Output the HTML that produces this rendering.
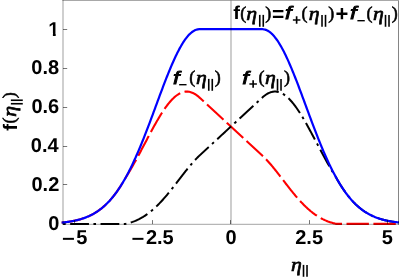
<!DOCTYPE html>
<html><head><meta charset="utf-8"><title>plot</title><style>html,body{margin:0;padding:0;background:#fff}body{width:399px;height:278px;overflow:hidden}svg{will-change:transform}</style></head><body><svg width="399" height="278" viewBox="0 0 399 278" style="display:block" text-rendering="geometricPrecision">
<rect width="399" height="278" fill="#fff"/>
<path d="M61.65,222.59 L62.33,222.53 L63.00,222.46 L63.68,222.39 L64.35,222.31 L65.03,222.23 L65.71,222.15 L66.38,222.07 L67.06,221.98 L67.73,221.89 L68.41,221.79 L69.09,221.69 L69.76,221.58 L70.44,221.48 L71.11,221.36 L71.79,221.24 L72.47,221.12 L73.14,220.99 L73.82,220.86 L74.49,220.72 L75.17,220.58 L75.85,220.43 L76.52,220.27 L77.20,220.11 L77.88,219.94 L78.55,219.76 L79.23,219.58 L79.90,219.40 L80.58,219.20 L81.26,219.00 L81.93,218.79 L82.61,218.57 L83.28,218.34 L83.96,218.11 L84.64,217.87 L85.31,217.62 L85.99,217.36 L86.66,217.09 L87.34,216.81 L88.02,216.52 L88.69,216.22 L89.37,215.92 L90.04,215.60 L90.72,215.27 L91.40,214.93 L92.07,214.58 L92.75,214.22 L93.42,213.84 L94.10,213.46 L94.78,213.06 L95.45,212.65 L96.13,212.22 L96.80,211.79 L97.48,211.34 L98.16,210.88 L98.83,210.40 L99.51,209.91 L100.18,209.40 L100.86,208.88 L101.54,208.35 L102.21,207.80 L102.89,207.23 L103.57,206.65 L104.24,206.06 L104.92,205.44 L105.59,204.81 L106.27,204.17 L106.95,203.50 L107.62,202.82 L108.30,202.12 L108.97,201.41 L109.65,200.68 L110.33,199.92 L111.00,199.15 L111.68,198.36 L112.35,197.56 L113.03,196.73 L113.71,195.88 L114.38,195.02 L115.06,194.13 L115.73,193.23 L116.41,192.30 L117.09,191.36 L117.76,190.40 L118.44,189.41 L119.11,188.40 L119.79,187.38 L120.47,186.33 L121.14,185.27 L121.82,184.18 L122.49,183.07 L123.17,181.94 L123.85,180.79 L124.52,179.62 L125.20,178.42 L125.87,177.29 L126.55,176.21 L127.23,175.12 L127.90,174.01 L128.58,172.90 L129.26,171.77 L129.93,170.63 L130.61,169.48 L131.28,168.32 L131.96,167.15 L132.64,165.97 L133.31,164.78 L133.99,163.57 L134.66,162.36 L135.34,161.15 L136.02,159.92 L136.69,158.69 L137.37,157.45 L138.04,156.20 L138.72,154.95 L139.40,153.69 L140.07,152.42 L140.75,151.15 L141.42,149.88 L142.10,148.61 L142.78,147.33 L143.45,146.05 L144.13,144.77 L144.80,143.49 L145.48,142.20 L146.16,140.92 L146.83,139.64 L147.51,138.36 L148.18,137.09 L148.86,135.82 L149.54,134.55 L150.21,133.28 L150.89,132.03 L151.56,130.77 L152.24,129.53 L152.92,128.29 L153.59,127.06 L154.27,125.84 L154.95,124.63 L155.62,123.43 L156.30,122.24 L156.97,121.07 L157.65,119.91 L158.33,118.76 L159.00,117.62 L159.68,116.50 L160.35,115.40 L161.03,114.31 L161.71,113.24 L162.38,112.19 L163.06,111.16 L163.73,110.14 L164.41,109.15 L165.09,108.18 L165.76,107.23 L166.44,106.30 L167.11,105.39 L167.79,104.51 L168.47,103.65 L169.14,102.82 L169.82,102.01 L170.49,101.23 L171.17,100.48 L171.85,99.75 L172.52,99.05 L173.20,98.38 L173.87,97.74 L174.55,97.13 L175.23,96.55 L175.90,96.00 L176.58,95.47 L177.25,94.99 L177.93,94.53 L178.61,94.10 L179.28,93.71 L179.96,93.35 L180.64,93.02 L181.31,92.72 L181.99,92.46 L182.66,92.23 L183.34,92.04 L184.02,91.88 L184.69,91.75 L185.37,91.66 L186.04,91.60 L186.72,91.58 L187.40,91.59 L188.07,91.64 L188.75,91.72 L189.42,91.84 L190.10,91.99 L190.78,92.17 L191.45,92.39 L192.13,92.64 L192.80,92.93 L193.48,93.25 L194.16,93.60 L194.83,93.99 L195.51,94.41 L196.18,94.86 L196.86,95.34 L197.54,95.86 L198.21,96.41 L198.89,96.99 L199.56,97.60 L200.24,98.22 L200.92,98.85 L201.59,99.47 L202.27,100.10 L202.94,100.72 L203.62,101.35 L204.30,101.97 L204.97,102.60 L205.65,103.22 L206.33,103.85 L207.00,104.47 L207.68,105.09 L208.35,105.72 L209.03,106.34 L209.71,106.97 L210.38,107.59 L211.06,108.22 L211.73,108.84 L212.41,109.47 L213.09,110.09 L213.76,110.72 L214.44,111.34 L215.11,111.97 L215.79,112.59 L216.47,113.21 L217.14,113.84 L217.82,114.46 L218.49,115.09 L219.17,115.71 L219.85,116.34 L220.52,116.96 L221.20,117.59 L221.87,118.21 L222.55,118.84 L223.23,119.46 L223.90,120.09 L224.58,120.71 L225.25,121.33 L225.93,121.96 L226.61,122.58 L227.28,123.21 L227.96,123.83 L228.63,124.46 L229.31,125.08 L229.99,125.71 L230.66,126.33 L231.34,126.96 L232.02,127.58 L232.69,128.20 L233.37,128.83 L234.04,129.45 L234.72,130.08 L235.40,130.70 L236.07,131.33 L236.75,131.95 L237.42,132.58 L238.10,133.20 L238.78,133.83 L239.45,134.45 L240.13,135.08 L240.80,135.70 L241.48,136.32 L242.16,136.95 L242.83,137.57 L243.51,138.20 L244.18,138.82 L244.86,139.45 L245.54,140.07 L246.21,140.70 L246.89,141.32 L247.56,141.95 L248.24,142.57 L248.92,143.20 L249.59,143.82 L250.27,144.44 L250.94,145.07 L251.62,145.69 L252.30,146.32 L252.97,146.94 L253.65,147.57 L254.32,148.19 L255.00,148.82 L255.68,149.44 L256.35,150.07 L257.03,150.69 L257.71,151.31 L258.38,151.94 L259.06,152.56 L259.73,153.19 L260.41,153.81 L261.09,154.44 L261.76,155.06 L262.44,155.69 L263.11,156.32 L263.79,156.98 L264.47,157.65 L265.14,158.33 L265.82,159.03 L266.49,159.74 L267.17,160.46 L267.85,161.20 L268.52,161.95 L269.20,162.71 L269.87,163.49 L270.55,164.27 L271.23,165.06 L271.90,165.87 L272.58,166.68 L273.25,167.50 L273.93,168.33 L274.61,169.17 L275.28,170.01 L275.96,170.86 L276.63,171.72 L277.31,172.58 L277.99,173.45 L278.66,174.32 L279.34,175.19 L280.01,176.06 L280.69,176.94 L281.37,177.82 L282.04,178.70 L282.72,179.59 L283.40,180.47 L284.07,181.35 L284.75,182.23 L285.42,183.11 L286.10,183.99 L286.78,184.86 L287.45,185.73 L288.13,186.60 L288.80,187.47 L289.48,188.33 L290.16,189.18 L290.83,190.04 L291.51,190.88 L292.18,191.72 L292.86,192.55 L293.54,193.38 L294.21,194.20 L294.89,195.01 L295.56,195.81 L296.24,196.61 L296.92,197.39 L297.59,198.17 L298.27,198.94 L298.94,199.70 L299.62,200.45 L300.30,201.19 L300.97,201.92 L301.65,202.64 L302.32,203.34 L303.00,204.04 L303.68,204.73 L304.35,205.40 L305.03,206.06 L305.70,206.72 L306.38,207.36 L307.06,207.98 L307.73,208.60 L308.41,209.20 L309.09,209.80 L309.76,210.37 L310.44,210.94 L311.11,211.50 L311.79,212.04 L312.47,212.57 L313.14,213.09 L313.82,213.59 L314.49,214.09 L315.17,214.57 L315.85,215.04 L316.52,215.49 L317.20,215.94 L317.87,216.37 L318.55,216.79 L319.23,217.20 L319.90,217.59 L320.58,217.98 L321.25,218.35 L321.93,218.71 L322.61,219.06 L323.28,219.40 L323.96,219.72 L324.63,220.04 L325.31,220.34 L325.99,220.64 L326.66,220.92 L327.34,221.19 L328.01,221.46 L328.69,221.71 L329.37,221.95 L330.04,222.18 L330.72,222.41 L331.39,222.62 L332.07,222.82 L332.75,223.02 L333.42,223.21 L334.10,223.38 L334.78,223.55 L335.45,223.72 L336.13,223.87 L336.80,223.90 L337.48,223.90 L338.16,223.90 L338.83,223.90 L339.51,223.90 L340.18,223.90 L340.86,223.90 L341.54,223.90 L342.21,223.90 L342.89,223.90 L343.56,223.90 L344.24,223.90 L344.92,223.90 L345.59,223.90 L346.27,223.90 L346.94,223.90 L347.62,223.90 L348.30,223.90 L348.97,223.90 L349.65,223.90 L350.32,223.90 L351.00,223.90 L351.68,223.90 L352.35,223.90 L353.03,223.90 L353.70,223.90 L354.38,223.90 L355.06,223.90 L355.73,223.90 L356.41,223.90 L357.08,223.90 L357.76,223.90 L358.44,223.90 L359.11,223.90 L359.79,223.90 L360.47,223.90 L361.14,223.90 L361.82,223.90 L362.49,223.90 L363.17,223.90 L363.85,223.90 L364.52,223.90 L365.20,223.90 L365.87,223.90 L366.55,223.90 L367.23,223.90 L367.90,223.90 L368.58,223.90 L369.25,223.90 L369.93,223.90 L370.61,223.90 L371.28,223.90 L371.96,223.90 L372.63,223.90 L373.31,223.90 L373.99,223.90 L374.66,223.90 L375.34,223.90 L376.01,223.90 L376.69,223.90 L377.37,223.90 L378.04,223.90 L378.72,223.90 L379.39,223.90 L380.07,223.90 L380.75,223.90 L381.42,223.90 L382.10,223.90 L382.77,223.90 L383.45,223.90 L384.13,223.90 L384.80,223.90 L385.48,223.90 L386.16,223.90 L386.83,223.90 L387.51,223.90 L388.18,223.90 L388.86,223.90 L389.54,223.90 L390.21,223.90 L390.89,223.90 L391.56,223.90 L392.24,223.90 L392.92,223.90 L393.59,223.90 L394.27,223.90 L394.94,223.90 L395.62,223.90 L396.30,223.90 L396.97,223.90 L397.65,223.90 L398.32,223.90 L399.00,223.90" fill="none" stroke="#f00" stroke-width="2.1" stroke-dasharray="22.4,4.49" stroke-dashoffset="0"/>
<path d="M61.65,223.90 L62.33,223.90 L63.00,223.90 L63.68,223.90 L64.35,223.90 L65.03,223.90 L65.71,223.90 L66.38,223.90 L67.06,223.90 L67.73,223.90 L68.41,223.90 L69.09,223.90 L69.76,223.90 L70.44,223.90 L71.11,223.90 L71.79,223.90 L72.47,223.90 L73.14,223.90 L73.82,223.90 L74.49,223.90 L75.17,223.90 L75.85,223.90 L76.52,223.90 L77.20,223.90 L77.88,223.90 L78.55,223.90 L79.23,223.90 L79.90,223.90 L80.58,223.90 L81.26,223.90 L81.93,223.90 L82.61,223.90 L83.28,223.90 L83.96,223.90 L84.64,223.90 L85.31,223.90 L85.99,223.90 L86.66,223.90 L87.34,223.90 L88.02,223.90 L88.69,223.90 L89.37,223.90 L90.04,223.90 L90.72,223.90 L91.40,223.90 L92.07,223.90 L92.75,223.90 L93.42,223.90 L94.10,223.90 L94.78,223.90 L95.45,223.90 L96.13,223.90 L96.80,223.90 L97.48,223.90 L98.16,223.90 L98.83,223.90 L99.51,223.90 L100.18,223.90 L100.86,223.90 L101.54,223.90 L102.21,223.90 L102.89,223.90 L103.57,223.90 L104.24,223.90 L104.92,223.90 L105.59,223.90 L106.27,223.90 L106.95,223.90 L107.62,223.90 L108.30,223.90 L108.97,223.90 L109.65,223.90 L110.33,223.90 L111.00,223.90 L111.68,223.90 L112.35,223.90 L113.03,223.90 L113.71,223.90 L114.38,223.90 L115.06,223.90 L115.73,223.90 L116.41,223.90 L117.09,223.90 L117.76,223.90 L118.44,223.90 L119.11,223.90 L119.79,223.90 L120.47,223.90 L121.14,223.90 L121.82,223.90 L122.49,223.90 L123.17,223.90 L123.85,223.90 L124.52,223.90 L125.20,223.90 L125.87,223.82 L126.55,223.67 L127.23,223.50 L127.90,223.33 L128.58,223.15 L129.26,222.96 L129.93,222.76 L130.61,222.56 L131.28,222.34 L131.96,222.11 L132.64,221.88 L133.31,221.63 L133.99,221.38 L134.66,221.11 L135.34,220.84 L136.02,220.55 L136.69,220.25 L137.37,219.95 L138.04,219.63 L138.72,219.30 L139.40,218.95 L140.07,218.60 L140.75,218.24 L141.42,217.86 L142.10,217.47 L142.78,217.08 L143.45,216.66 L144.13,216.24 L144.80,215.81 L145.48,215.36 L146.16,214.90 L146.83,214.43 L147.51,213.94 L148.18,213.44 L148.86,212.93 L149.54,212.41 L150.21,211.88 L150.89,211.33 L151.56,210.77 L152.24,210.20 L152.92,209.62 L153.59,209.02 L154.27,208.42 L154.95,207.80 L155.62,207.17 L156.30,206.52 L156.97,205.87 L157.65,205.20 L158.33,204.52 L159.00,203.83 L159.68,203.13 L160.35,202.42 L161.03,201.70 L161.71,200.97 L162.38,200.23 L163.06,199.47 L163.73,198.71 L164.41,197.94 L165.09,197.16 L165.76,196.37 L166.44,195.57 L167.11,194.77 L167.79,193.95 L168.47,193.13 L169.14,192.30 L169.82,191.47 L170.49,190.63 L171.17,189.78 L171.85,188.93 L172.52,188.07 L173.20,187.21 L173.87,186.34 L174.55,185.47 L175.23,184.60 L175.90,183.72 L176.58,182.85 L177.25,181.97 L177.93,181.09 L178.61,180.20 L179.28,179.32 L179.96,178.44 L180.64,177.56 L181.31,176.68 L181.99,175.80 L182.66,174.93 L183.34,174.05 L184.02,173.19 L184.69,172.32 L185.37,171.46 L186.04,170.61 L186.72,169.76 L187.40,168.92 L188.07,168.08 L188.75,167.26 L189.42,166.44 L190.10,165.63 L190.78,164.83 L191.45,164.04 L192.13,163.25 L192.80,162.48 L193.48,161.73 L194.16,160.98 L194.83,160.24 L195.51,159.52 L196.18,158.82 L196.86,158.12 L197.54,157.44 L198.21,156.78 L198.89,156.13 L199.56,155.50 L200.24,154.88 L200.92,154.25 L201.59,153.63 L202.27,153.00 L202.94,152.38 L203.62,151.75 L204.30,151.13 L204.97,150.50 L205.65,149.88 L206.33,149.25 L207.00,148.63 L207.68,148.01 L208.35,147.38 L209.03,146.76 L209.71,146.13 L210.38,145.51 L211.06,144.88 L211.73,144.26 L212.41,143.63 L213.09,143.01 L213.76,142.38 L214.44,141.76 L215.11,141.13 L215.79,140.51 L216.47,139.89 L217.14,139.26 L217.82,138.64 L218.49,138.01 L219.17,137.39 L219.85,136.76 L220.52,136.14 L221.20,135.51 L221.87,134.89 L222.55,134.26 L223.23,133.64 L223.90,133.01 L224.58,132.39 L225.25,131.77 L225.93,131.14 L226.61,130.52 L227.28,129.89 L227.96,129.27 L228.63,128.64 L229.31,128.02 L229.99,127.39 L230.66,126.77 L231.34,126.14 L232.02,125.52 L232.69,124.90 L233.37,124.27 L234.04,123.65 L234.72,123.02 L235.40,122.40 L236.07,121.77 L236.75,121.15 L237.42,120.52 L238.10,119.90 L238.78,119.27 L239.45,118.65 L240.13,118.02 L240.80,117.40 L241.48,116.78 L242.16,116.15 L242.83,115.53 L243.51,114.90 L244.18,114.28 L244.86,113.65 L245.54,113.03 L246.21,112.40 L246.89,111.78 L247.56,111.15 L248.24,110.53 L248.92,109.90 L249.59,109.28 L250.27,108.66 L250.94,108.03 L251.62,107.41 L252.30,106.78 L252.97,106.16 L253.65,105.53 L254.32,104.91 L255.00,104.28 L255.68,103.66 L256.35,103.03 L257.03,102.41 L257.71,101.79 L258.38,101.16 L259.06,100.54 L259.73,99.91 L260.41,99.29 L261.09,98.66 L261.76,98.04 L262.44,97.41 L263.11,96.81 L263.79,96.24 L264.47,95.70 L265.14,95.20 L265.82,94.72 L266.49,94.28 L267.17,93.87 L267.85,93.49 L268.52,93.15 L269.20,92.84 L269.87,92.56 L270.55,92.32 L271.23,92.11 L271.90,91.94 L272.58,91.80 L273.25,91.69 L273.93,91.62 L274.61,91.59 L275.28,91.58 L275.96,91.62 L276.63,91.68 L277.31,91.79 L277.99,91.92 L278.66,92.09 L279.34,92.30 L280.01,92.53 L280.69,92.81 L281.37,93.11 L282.04,93.45 L282.72,93.82 L283.40,94.22 L284.07,94.66 L284.75,95.13 L285.42,95.63 L286.10,96.16 L286.78,96.72 L287.45,97.31 L288.13,97.93 L288.80,98.58 L289.48,99.26 L290.16,99.97 L290.83,100.70 L291.51,101.46 L292.18,102.25 L292.86,103.07 L293.54,103.91 L294.21,104.77 L294.89,105.66 L295.56,106.57 L296.24,107.51 L296.92,108.46 L297.59,109.44 L298.27,110.44 L298.94,111.46 L299.62,112.50 L300.30,113.56 L300.97,114.63 L301.65,115.73 L302.32,116.83 L303.00,117.96 L303.68,119.10 L304.35,120.25 L305.03,121.42 L305.70,122.60 L306.38,123.79 L307.06,124.99 L307.73,126.21 L308.41,127.43 L309.09,128.66 L309.76,129.90 L310.44,131.15 L311.11,132.40 L311.79,133.66 L312.47,134.93 L313.14,136.20 L313.82,137.47 L314.49,138.75 L315.17,140.03 L315.85,141.31 L316.52,142.59 L317.20,143.87 L317.87,145.15 L318.55,146.43 L319.23,147.71 L319.90,148.99 L320.58,150.26 L321.25,151.53 L321.93,152.80 L322.61,154.06 L323.28,155.32 L323.96,156.57 L324.63,157.82 L325.31,159.06 L325.99,160.29 L326.66,161.51 L327.34,162.73 L328.01,163.93 L328.69,165.13 L329.37,166.32 L330.04,167.50 L330.72,168.67 L331.39,169.83 L332.07,170.97 L332.75,172.11 L333.42,173.23 L334.10,174.35 L334.78,175.45 L335.45,176.53 L336.13,177.61 L336.80,178.78 L337.48,179.97 L338.16,181.13 L338.83,182.28 L339.51,183.40 L340.18,184.50 L340.86,185.59 L341.54,186.65 L342.21,187.69 L342.89,188.71 L343.56,189.71 L344.24,190.69 L344.92,191.64 L345.59,192.58 L346.27,193.50 L346.94,194.40 L347.62,195.28 L348.30,196.14 L348.97,196.98 L349.65,197.80 L350.32,198.60 L351.00,199.39 L351.68,200.15 L352.35,200.90 L353.03,201.62 L353.70,202.34 L354.38,203.03 L355.06,203.70 L355.73,204.36 L356.41,205.00 L357.08,205.63 L357.76,206.24 L358.44,206.83 L359.11,207.40 L359.79,207.97 L360.47,208.51 L361.14,209.04 L361.82,209.56 L362.49,210.06 L363.17,210.54 L363.85,211.02 L364.52,211.48 L365.20,211.92 L365.87,212.35 L366.55,212.77 L367.23,213.18 L367.90,213.57 L368.58,213.96 L369.25,214.33 L369.93,214.68 L370.61,215.03 L371.28,215.37 L371.96,215.69 L372.63,216.01 L373.31,216.31 L373.99,216.61 L374.66,216.89 L375.34,217.17 L376.01,217.43 L376.69,217.69 L377.37,217.94 L378.04,218.18 L378.72,218.41 L379.39,218.64 L380.07,218.85 L380.75,219.06 L381.42,219.26 L382.10,219.45 L382.77,219.64 L383.45,219.82 L384.13,219.99 L384.80,220.16 L385.48,220.32 L386.16,220.47 L386.83,220.62 L387.51,220.76 L388.18,220.90 L388.86,221.03 L389.54,221.16 L390.21,221.28 L390.89,221.40 L391.56,221.51 L392.24,221.62 L392.92,221.72 L393.59,221.82 L394.27,221.91 L394.94,222.01 L395.62,222.09 L396.30,222.18 L396.97,222.26 L397.65,222.33 L398.32,222.41 L399.00,222.48" fill="none" stroke="#000" stroke-width="2.0" stroke-dasharray="18.77,4.5,2.6,4.5" stroke-dashoffset="21.85"/>
<path d="M61.65,222.59 L62.33,222.53 L63.00,222.46 L63.68,222.39 L64.35,222.31 L65.03,222.23 L65.71,222.15 L66.38,222.07 L67.06,221.98 L67.73,221.89 L68.41,221.79 L69.09,221.69 L69.76,221.58 L70.44,221.48 L71.11,221.36 L71.79,221.24 L72.47,221.12 L73.14,220.99 L73.82,220.86 L74.49,220.72 L75.17,220.58 L75.85,220.43 L76.52,220.27 L77.20,220.11 L77.88,219.94 L78.55,219.76 L79.23,219.58 L79.90,219.40 L80.58,219.20 L81.26,219.00 L81.93,218.79 L82.61,218.57 L83.28,218.34 L83.96,218.11 L84.64,217.87 L85.31,217.62 L85.99,217.36 L86.66,217.09 L87.34,216.81 L88.02,216.52 L88.69,216.22 L89.37,215.92 L90.04,215.60 L90.72,215.27 L91.40,214.93 L92.07,214.58 L92.75,214.22 L93.42,213.84 L94.10,213.46 L94.78,213.06 L95.45,212.65 L96.13,212.22 L96.80,211.79 L97.48,211.34 L98.16,210.88 L98.83,210.40 L99.51,209.91 L100.18,209.40 L100.86,208.88 L101.54,208.35 L102.21,207.80 L102.89,207.23 L103.57,206.65 L104.24,206.06 L104.92,205.44 L105.59,204.81 L106.27,204.17 L106.95,203.50 L107.62,202.82 L108.30,202.12 L108.97,201.41 L109.65,200.68 L110.33,199.92 L111.00,199.15 L111.68,198.36 L112.35,197.56 L113.03,196.73 L113.71,195.88 L114.38,195.02 L115.06,194.13 L115.73,193.23 L116.41,192.30 L117.09,191.36 L117.76,190.40 L118.44,189.41 L119.11,188.40 L119.79,187.38 L120.47,186.33 L121.14,185.27 L121.82,184.18 L122.49,183.07 L123.17,181.94 L123.85,180.79 L124.52,179.62 L125.20,178.42 L125.87,177.21 L126.55,175.98 L127.23,174.72 L127.90,173.45 L128.58,172.15 L129.26,170.83 L129.93,169.50 L130.61,168.14 L131.28,166.76 L131.96,165.36 L132.64,163.95 L133.31,162.51 L133.99,161.05 L134.66,159.58 L135.34,158.08 L136.02,156.57 L136.69,155.04 L137.37,153.49 L138.04,151.92 L138.72,150.34 L139.40,148.74 L140.07,147.13 L140.75,145.49 L141.42,143.84 L142.10,142.18 L142.78,140.51 L143.45,138.81 L144.13,137.11 L144.80,135.39 L145.48,133.66 L146.16,131.92 L146.83,130.17 L147.51,128.41 L148.18,126.63 L148.86,124.85 L149.54,123.06 L150.21,121.26 L150.89,119.46 L151.56,117.65 L152.24,115.83 L152.92,114.01 L153.59,112.19 L154.27,110.36 L154.95,108.53 L155.62,106.70 L156.30,104.87 L156.97,103.04 L157.65,101.21 L158.33,99.38 L159.00,97.55 L159.68,95.73 L160.35,93.92 L161.03,92.11 L161.71,90.31 L162.38,88.51 L163.06,86.73 L163.73,84.95 L164.41,83.19 L165.09,81.44 L165.76,79.70 L166.44,77.97 L167.11,76.26 L167.79,74.56 L168.47,72.89 L169.14,71.22 L169.82,69.58 L170.49,67.96 L171.17,66.36 L171.85,64.78 L172.52,63.23 L173.20,61.69 L173.87,60.19 L174.55,58.70 L175.23,57.25 L175.90,55.82 L176.58,54.42 L177.25,53.05 L177.93,51.71 L178.61,50.40 L179.28,49.13 L179.96,47.89 L180.64,46.68 L181.31,45.50 L181.99,44.36 L182.66,43.26 L183.34,42.19 L184.02,41.16 L184.69,40.17 L185.37,39.22 L186.04,38.31 L186.72,37.44 L187.40,36.61 L188.07,35.82 L188.75,35.08 L189.42,34.37 L190.10,33.71 L190.78,33.10 L191.45,32.52 L192.13,31.99 L192.80,31.51 L193.48,31.07 L194.16,30.68 L194.83,30.33 L195.51,30.03 L196.18,29.78 L196.86,29.57 L197.54,29.41 L198.21,29.29 L198.89,29.22 L199.56,29.20 L200.24,29.20 L200.92,29.20 L201.59,29.20 L202.27,29.20 L202.94,29.20 L203.62,29.20 L204.30,29.20 L204.97,29.20 L205.65,29.20 L206.33,29.20 L207.00,29.20 L207.68,29.20 L208.35,29.20 L209.03,29.20 L209.71,29.20 L210.38,29.20 L211.06,29.20 L211.73,29.20 L212.41,29.20 L213.09,29.20 L213.76,29.20 L214.44,29.20 L215.11,29.20 L215.79,29.20 L216.47,29.20 L217.14,29.20 L217.82,29.20 L218.49,29.20 L219.17,29.20 L219.85,29.20 L220.52,29.20 L221.20,29.20 L221.87,29.20 L222.55,29.20 L223.23,29.20 L223.90,29.20 L224.58,29.20 L225.25,29.20 L225.93,29.20 L226.61,29.20 L227.28,29.20 L227.96,29.20 L228.63,29.20 L229.31,29.20 L229.99,29.20 L230.66,29.20 L231.34,29.20 L232.02,29.20 L232.69,29.20 L233.37,29.20 L234.04,29.20 L234.72,29.20 L235.40,29.20 L236.07,29.20 L236.75,29.20 L237.42,29.20 L238.10,29.20 L238.78,29.20 L239.45,29.20 L240.13,29.20 L240.80,29.20 L241.48,29.20 L242.16,29.20 L242.83,29.20 L243.51,29.20 L244.18,29.20 L244.86,29.20 L245.54,29.20 L246.21,29.20 L246.89,29.20 L247.56,29.20 L248.24,29.20 L248.92,29.20 L249.59,29.20 L250.27,29.20 L250.94,29.20 L251.62,29.20 L252.30,29.20 L252.97,29.20 L253.65,29.20 L254.32,29.20 L255.00,29.20 L255.68,29.20 L256.35,29.20 L257.03,29.20 L257.71,29.20 L258.38,29.20 L259.06,29.20 L259.73,29.20 L260.41,29.20 L261.09,29.20 L261.76,29.20 L262.44,29.20 L263.11,29.24 L263.79,29.32 L264.47,29.45 L265.14,29.62 L265.82,29.85 L266.49,30.12 L267.17,30.43 L267.85,30.79 L268.52,31.20 L269.20,31.65 L269.87,32.15 L270.55,32.69 L271.23,33.28 L271.90,33.91 L272.58,34.58 L273.25,35.30 L273.93,36.05 L274.61,36.86 L275.28,37.70 L275.96,38.58 L276.63,39.50 L277.31,40.47 L277.99,41.47 L278.66,42.51 L279.34,43.58 L280.01,44.70 L280.69,45.85 L281.37,47.03 L282.04,48.25 L282.72,49.51 L283.40,50.79 L284.07,52.11 L284.75,53.46 L285.42,54.84 L286.10,56.24 L286.78,57.68 L287.45,59.14 L288.13,60.63 L288.80,62.15 L289.48,63.69 L290.16,65.25 L290.83,66.84 L291.51,68.44 L292.18,70.07 L292.86,71.72 L293.54,73.39 L294.21,75.07 L294.89,76.77 L295.56,78.48 L296.24,80.21 L296.92,81.96 L297.59,83.71 L298.27,85.48 L298.94,87.26 L299.62,89.05 L300.30,90.85 L300.97,92.65 L301.65,94.46 L302.32,96.28 L303.00,98.10 L303.68,99.92 L304.35,101.75 L305.03,103.58 L305.70,105.41 L306.38,107.25 L307.06,109.08 L307.73,110.91 L308.41,112.73 L309.09,114.56 L309.76,116.38 L310.44,118.19 L311.11,120.00 L311.79,121.80 L312.47,123.60 L313.14,125.38 L313.82,127.16 L314.49,128.93 L315.17,130.69 L315.85,132.44 L316.52,134.18 L317.20,135.91 L317.87,137.62 L318.55,139.32 L319.23,141.01 L319.90,142.68 L320.58,144.34 L321.25,145.98 L321.93,147.61 L322.61,149.22 L323.28,150.82 L323.96,152.39 L324.63,153.96 L325.31,155.50 L325.99,157.02 L326.66,158.53 L327.34,160.02 L328.01,161.49 L328.69,162.94 L329.37,164.37 L330.04,165.78 L330.72,167.17 L331.39,168.55 L332.07,169.90 L332.75,171.23 L333.42,172.54 L334.10,173.83 L334.78,175.10 L335.45,176.35 L336.13,177.58 L336.80,178.78 L337.48,179.97 L338.16,181.13 L338.83,182.28 L339.51,183.40 L340.18,184.50 L340.86,185.59 L341.54,186.65 L342.21,187.69 L342.89,188.71 L343.56,189.71 L344.24,190.69 L344.92,191.64 L345.59,192.58 L346.27,193.50 L346.94,194.40 L347.62,195.28 L348.30,196.14 L348.97,196.98 L349.65,197.80 L350.32,198.60 L351.00,199.39 L351.68,200.15 L352.35,200.90 L353.03,201.62 L353.70,202.34 L354.38,203.03 L355.06,203.70 L355.73,204.36 L356.41,205.00 L357.08,205.63 L357.76,206.24 L358.44,206.83 L359.11,207.40 L359.79,207.97 L360.47,208.51 L361.14,209.04 L361.82,209.56 L362.49,210.06 L363.17,210.54 L363.85,211.02 L364.52,211.48 L365.20,211.92 L365.87,212.35 L366.55,212.77 L367.23,213.18 L367.90,213.57 L368.58,213.96 L369.25,214.33 L369.93,214.68 L370.61,215.03 L371.28,215.37 L371.96,215.69 L372.63,216.01 L373.31,216.31 L373.99,216.61 L374.66,216.89 L375.34,217.17 L376.01,217.43 L376.69,217.69 L377.37,217.94 L378.04,218.18 L378.72,218.41 L379.39,218.64 L380.07,218.85 L380.75,219.06 L381.42,219.26 L382.10,219.45 L382.77,219.64 L383.45,219.82 L384.13,219.99 L384.80,220.16 L385.48,220.32 L386.16,220.47 L386.83,220.62 L387.51,220.76 L388.18,220.90 L388.86,221.03 L389.54,221.16 L390.21,221.28 L390.89,221.40 L391.56,221.51 L392.24,221.62 L392.92,221.72 L393.59,221.82 L394.27,221.91 L394.94,222.01 L395.62,222.09 L396.30,222.18 L396.97,222.26 L397.65,222.33 L398.32,222.41 L399.00,222.48" fill="none" stroke="#00f" stroke-width="2.2"/>
<line x1="231.00" y1="0.5" x2="231.00" y2="223.9" stroke="#000" stroke-opacity="0.3" stroke-width="1.3"/>
<path d="M63.0,0.0 V224.8" fill="none" stroke="#000" stroke-opacity="0.27" stroke-width="1.4"/>
<path d="M62.3,224.3 H399.0" fill="none" stroke="#000" stroke-opacity="0.36" stroke-width="1"/>
<path d="M62.4,0.4 H399.0" fill="none" stroke="#000" stroke-opacity="0.43" stroke-width="0.9"/>
<path d="M398.5,0.9 V224.8" fill="none" stroke="#000" stroke-opacity="0.48" stroke-width="1"/>
<line x1="74.5" y1="224.1" x2="74.5" y2="220.1" stroke="#000" stroke-opacity="0.6" stroke-width="0.9"/>
<line x1="152.5" y1="224.1" x2="152.5" y2="220.1" stroke="#000" stroke-opacity="0.6" stroke-width="0.9"/>
<line x1="230.5" y1="224.1" x2="230.5" y2="220.1" stroke="#000" stroke-opacity="0.6" stroke-width="0.9"/>
<line x1="309.5" y1="224.1" x2="309.5" y2="220.1" stroke="#000" stroke-opacity="0.6" stroke-width="0.9"/>
<line x1="387.5" y1="224.1" x2="387.5" y2="220.1" stroke="#000" stroke-opacity="0.6" stroke-width="0.9"/>
<line x1="63.0" y1="184.5" x2="67.2" y2="184.5" stroke="#000" stroke-opacity="0.6" stroke-width="0.9"/>
<line x1="63.0" y1="146.5" x2="67.2" y2="146.5" stroke="#000" stroke-opacity="0.6" stroke-width="0.9"/>
<line x1="63.0" y1="107.5" x2="67.2" y2="107.5" stroke="#000" stroke-opacity="0.6" stroke-width="0.9"/>
<line x1="63.0" y1="68.5" x2="67.2" y2="68.5" stroke="#000" stroke-opacity="0.6" stroke-width="0.9"/>
<line x1="63.0" y1="29.5" x2="67.2" y2="29.5" stroke="#000" stroke-opacity="0.6" stroke-width="0.9"/>
<g fill="#000">
<text transform="translate(61.89,244.95) scale(1.19,1)" style="font-family:'Liberation Sans',sans-serif;font-weight:bold;font-size:18.5px">−</text>
<text x="76.28" y="243.50" style="font-family:'Liberation Sans',sans-serif;font-weight:bold;font-size:20px">5</text>
<text transform="translate(131.39,244.95) scale(1.19,1)" style="font-family:'Liberation Sans',sans-serif;font-weight:bold;font-size:18.5px">−</text>
<text x="145.91" y="243.50" style="font-family:'Liberation Sans',sans-serif;font-weight:bold;font-size:20px">2.5</text>
<text x="225.40" y="243.50" style="font-family:'Liberation Sans',sans-serif;font-weight:bold;font-size:20px">0</text>
<text x="295.23" y="243.50" style="font-family:'Liberation Sans',sans-serif;font-weight:bold;font-size:20px">2.5</text>
<text x="381.81" y="243.50" style="font-family:'Liberation Sans',sans-serif;font-weight:bold;font-size:20px">5</text>
<text x="48.20" y="229.80" style="font-family:'Liberation Sans',sans-serif;font-weight:bold;font-size:20px">0</text>
<text x="31.50" y="190.86" style="font-family:'Liberation Sans',sans-serif;font-weight:bold;font-size:20px">0.2</text>
<text x="30.80" y="151.92" style="font-family:'Liberation Sans',sans-serif;font-weight:bold;font-size:20px">0.4</text>
<text x="31.42" y="112.98" style="font-family:'Liberation Sans',sans-serif;font-weight:bold;font-size:20px">0.6</text>
<text x="31.31" y="74.04" style="font-family:'Liberation Sans',sans-serif;font-weight:bold;font-size:20px">0.8</text>
<clipPath id="c1"><path d="M48,20 H55.7 V37 H52.9 V33.1 H48 Z"/></clipPath>
<text x="48.25" y="35.60" clip-path="url(#c1)" style="font-family:'Liberation Sans',sans-serif;font-weight:bold;font-size:20px">1</text>
<text transform="translate(233.26,18.80) scale(1.08,1)" style="font-family:'Liberation Sans',sans-serif;font-weight:bold;font-size:18.6px">f</text>
<text x="240.21" y="18.90" style="font-family:'Liberation Serif',serif;font-size:18px" stroke="#000" stroke-width="0.55">(</text>
<text transform="translate(246.32,19.80) scale(1.12,1)" style="font-family:'Liberation Serif',serif;font-style:italic;font-size:19.5px" stroke="#000" stroke-width="0.65">η</text>
<text x="257.94" y="23.55" style="font-family:'Liberation Sans',sans-serif;font-weight:bold;font-size:12.6px">||</text>
<text x="265.22" y="18.90" style="font-family:'Liberation Serif',serif;font-size:18px" stroke="#000" stroke-width="0.55">)</text>
<text x="272.03" y="21.40" style="font-family:'Liberation Sans',sans-serif;font-weight:bold;font-size:21px">=</text>
<text transform="translate(285.01,18.80) scale(1.3,1)" style="font-family:'Liberation Sans',sans-serif;font-style:italic;font-size:18px" stroke="#000" stroke-width="0.8">f</text>
<text x="292.37" y="24.90" style="font-family:'Liberation Sans',sans-serif;font-weight:bold;font-size:15px">+</text>
<text x="301.51" y="18.90" style="font-family:'Liberation Serif',serif;font-size:18px" stroke="#000" stroke-width="0.55">(</text>
<text transform="translate(308.72,19.80) scale(1.12,1)" style="font-family:'Liberation Serif',serif;font-style:italic;font-size:19.5px" stroke="#000" stroke-width="0.65">η</text>
<text x="320.14" y="23.55" style="font-family:'Liberation Sans',sans-serif;font-weight:bold;font-size:12.6px">||</text>
<text x="328.32" y="18.90" style="font-family:'Liberation Serif',serif;font-size:18px" stroke="#000" stroke-width="0.55">)</text>
<text x="335.48" y="21.30" style="font-family:'Liberation Sans',sans-serif;font-weight:bold;font-size:22px">+</text>
<text transform="translate(350.11,18.80) scale(1.3,1)" style="font-family:'Liberation Sans',sans-serif;font-style:italic;font-size:18px" stroke="#000" stroke-width="0.8">f</text>
<text transform="translate(356.68,25.42) scale(1.14,1)" style="font-family:'Liberation Sans',sans-serif;font-weight:bold;font-size:13px">−</text>
<text x="366.41" y="18.90" style="font-family:'Liberation Serif',serif;font-size:18px" stroke="#000" stroke-width="0.55">(</text>
<text transform="translate(372.92,19.80) scale(1.12,1)" style="font-family:'Liberation Serif',serif;font-style:italic;font-size:19.5px" stroke="#000" stroke-width="0.65">η</text>
<text x="383.84" y="23.55" style="font-family:'Liberation Sans',sans-serif;font-weight:bold;font-size:12.6px">||</text>
<text x="391.72" y="18.90" style="font-family:'Liberation Serif',serif;font-size:18px" stroke="#000" stroke-width="0.55">)</text>
<text transform="translate(173.11,83.70) scale(1.3,1)" style="font-family:'Liberation Sans',sans-serif;font-style:italic;font-size:18px" stroke="#000" stroke-width="0.8">f</text>
<text transform="translate(178.48,88.92) scale(1.14,1)" style="font-family:'Liberation Sans',sans-serif;font-weight:bold;font-size:13px">−</text>
<text x="189.21" y="83.30" style="font-family:'Liberation Serif',serif;font-size:18px" stroke="#000" stroke-width="0.55">(</text>
<text transform="translate(196.02,84.40) scale(1.12,1)" style="font-family:'Liberation Serif',serif;font-style:italic;font-size:19.5px" stroke="#000" stroke-width="0.65">η</text>
<text x="207.04" y="88.45" style="font-family:'Liberation Sans',sans-serif;font-weight:bold;font-size:12.6px">||</text>
<text x="214.82" y="83.30" style="font-family:'Liberation Serif',serif;font-size:18px" stroke="#000" stroke-width="0.55">)</text>
<text transform="translate(242.31,83.70) scale(1.3,1)" style="font-family:'Liberation Sans',sans-serif;font-style:italic;font-size:18px" stroke="#000" stroke-width="0.8">f</text>
<text x="248.87" y="89.40" style="font-family:'Liberation Sans',sans-serif;font-weight:bold;font-size:15px">+</text>
<text x="258.61" y="83.30" style="font-family:'Liberation Serif',serif;font-size:18px" stroke="#000" stroke-width="0.55">(</text>
<text transform="translate(265.02,84.40) scale(1.12,1)" style="font-family:'Liberation Serif',serif;font-style:italic;font-size:19.5px" stroke="#000" stroke-width="0.65">η</text>
<text x="275.84" y="88.45" style="font-family:'Liberation Sans',sans-serif;font-weight:bold;font-size:12.6px">||</text>
<text x="284.02" y="83.30" style="font-family:'Liberation Serif',serif;font-size:18px" stroke="#000" stroke-width="0.55">)</text>
<text transform="translate(291.02,270.50) scale(1.12,1)" style="font-family:'Liberation Serif',serif;font-style:italic;font-size:19.5px" stroke="#000" stroke-width="0.65">η</text>
<text x="301.84" y="274.35" style="font-family:'Liberation Sans',sans-serif;font-weight:bold;font-size:12.6px">||</text>
<g transform="translate(16.7,130.4) rotate(-90)">
<text transform="translate(-0.35,0.00) scale(1.03,1)" style="font-family:'Liberation Sans',sans-serif;font-weight:bold;font-size:19.6px">f</text>
<text x="7.01" y="-1.40" style="font-family:'Liberation Serif',serif;font-size:18px" stroke="#000" stroke-width="0.55">(</text>
<text transform="translate(13.62,-0.50) scale(1.12,1)" style="font-family:'Liberation Serif',serif;font-style:italic;font-size:19.5px" stroke="#000" stroke-width="0.65">η</text>
<text x="24.84" y="3.35" style="font-family:'Liberation Sans',sans-serif;font-weight:bold;font-size:12.6px">||</text>
<text x="32.12" y="-1.40" style="font-family:'Liberation Serif',serif;font-size:18px" stroke="#000" stroke-width="0.55">)</text>
</g>
</g></svg></body></html>
